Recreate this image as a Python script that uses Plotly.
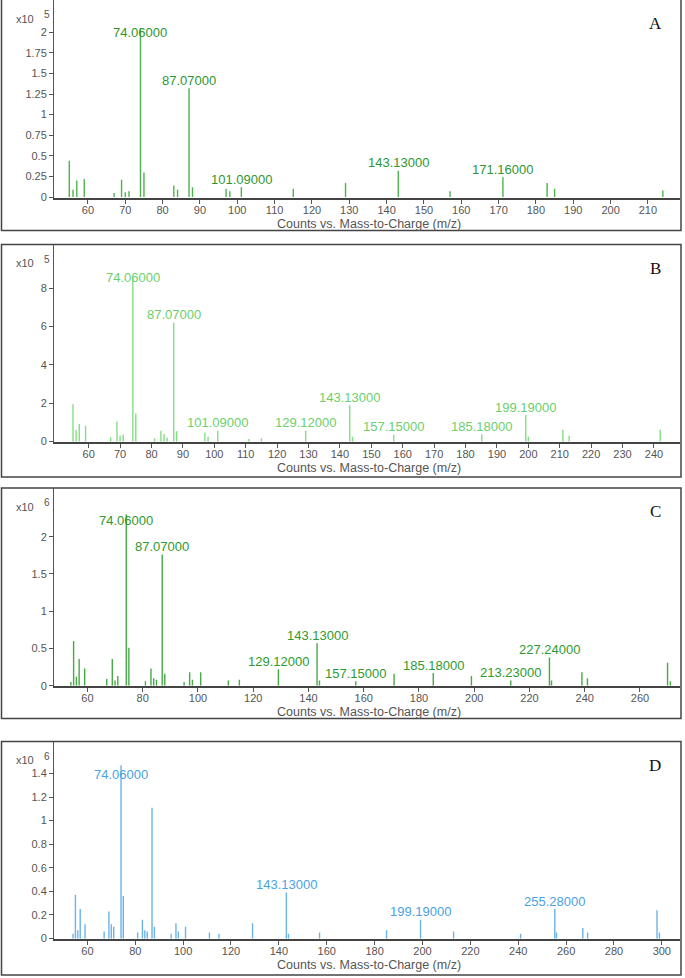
import plotly.graph_objects as go

# ---------------- data ----------------
A_mz = [55, 56, 57, 59, 67, 69, 70, 71, 74.06, 75, 83, 84, 87.07, 88, 97, 98, 101.09, 115, 129, 143.13, 157, 171.16, 183, 185, 214]
A_int = [0.44, 0.09, 0.20, 0.22, 0.05, 0.21, 0.06, 0.07, 2.05, 0.30, 0.14, 0.09, 1.32, 0.12, 0.10, 0.07, 0.12, 0.10, 0.17, 0.32, 0.07, 0.24, 0.17, 0.10, 0.08]
A_labels = [74.06, 87.07, 101.09, 143.13, 171.16]

B_mz = [55, 56, 57, 59, 67, 69, 70, 71, 74.06, 75, 81, 83, 84, 85, 87.07, 88, 97, 98, 101.09, 111, 115, 129.12, 143.13, 144, 157.15, 185.18, 199.19, 200, 211, 213, 242]
B_int = [1.95, 0.60, 0.92, 0.83, 0.22, 1.05, 0.30, 0.35, 8.50, 1.47, 0.17, 0.57, 0.40, 0.20, 6.20, 0.54, 0.48, 0.25, 0.57, 0.14, 0.17, 0.57, 1.90, 0.25, 0.35, 0.38, 1.38, 0.25, 0.62, 0.30, 0.62]
B_labels = [74.06, 87.07, 101.09, 129.12, 143.13, 157.15, 185.18, 199.19]

C_mz = [54, 55, 56, 57, 59, 67, 69, 70, 71, 74.06, 75, 81, 83, 84, 85, 87.07, 88, 95, 97, 98, 101, 111, 115, 129.12, 143.13, 144, 157.15, 171, 185.18, 199, 213.23, 227.24, 228, 239, 241, 270, 271]
C_int = [0.05, 0.60, 0.12, 0.36, 0.23, 0.09, 0.36, 0.07, 0.13, 2.30, 0.51, 0.06, 0.23, 0.10, 0.08, 1.76, 0.16, 0.05, 0.18, 0.08, 0.18, 0.07, 0.08, 0.22, 0.57, 0.07, 0.06, 0.16, 0.17, 0.13, 0.07, 0.38, 0.07, 0.18, 0.10, 0.31, 0.06]
C_labels = [74.06, 87.07, 129.12, 143.13, 157.15, 185.18, 213.23, 227.24]

D_mz = [54, 55, 56, 57, 59, 67, 69, 70, 71, 74.06, 75, 81, 83, 84, 85, 87, 88, 95, 97, 98, 101, 111, 115, 129, 143.13, 144, 157, 185, 199.19, 213, 241, 255.28, 256, 267, 269, 298, 299]
D_int = [0.04, 0.37, 0.07, 0.25, 0.12, 0.06, 0.23, 0.12, 0.10, 1.47, 0.36, 0.05, 0.16, 0.07, 0.06, 1.11, 0.10, 0.04, 0.13, 0.06, 0.10, 0.05, 0.04, 0.13, 0.39, 0.04, 0.05, 0.07, 0.16, 0.06, 0.04, 0.25, 0.05, 0.09, 0.05, 0.24, 0.05]
D_labels = [74.06, 143.13, 199.19, 255.28]

A_xticks = list(range(60, 211, 10))
B_xticks = list(range(60, 241, 10))
C_xticks = list(range(60, 261, 20))
D_xticks = list(range(60, 301, 20))
A_yticks = [0, 0.25, 0.5, 0.75, 1, 1.25, 1.5, 1.75, 2]
B_yticks = [0, 2, 4, 6, 8]
C_yticks = [0, 0.5, 1, 1.5, 2]
D_yticks = [0, 0.2, 0.4, 0.6, 0.8, 1, 1.2, 1.4]
exponents = ["5", "5", "6", "6"]
letters = ["A", "B", "C", "D"]
xtitle = "Counts vs. Mass-to-Charge (m/z)"

# ---------------- layout / style ----------------
W, H = 685, 978
def fx(p):
    return p / W
def fy(p):
    return 1 - p / H

panels = [
    dict(mz=A_mz, it=A_int, lab=A_labels, xt=A_xticks, yt=A_yticks,
         xr=[50.9, 218.6], yr=[-0.008, 2.39], top=0, bot=199, box=(-3, 232),
         line="#4fb24f", text="#2f962f"),
    dict(mz=B_mz, it=B_int, lab=B_labels, xt=B_xticks, yt=B_yticks,
         xr=[48.95, 248.3], yr=[-0.036, 10.28], top=246, bot=445, box=(246, 480),
         line="#84de84", text="#6ccf6c"),
    dict(mz=C_mz, it=C_int, lab=C_labels, xt=C_xticks, yt=C_yticks,
         xr=[47.9, 274.5], yr=[0, 2.653], top=491, bot=690, box=(491, 723),
         line="#46aa46", text="#2f9a2f"),
    dict(mz=D_mz, it=D_int, lab=D_labels, xt=D_xticks, yt=D_yticks,
         xr=[46.05, 307.6], yr=[-0.006, 1.672], top=746, bot=945, box=(746, 981),
         line="#6ab4ea", text="#4aa2e2"),
]

PLOT_L, PLOT_R = 54, 680
tickfont = dict(family="Liberation Sans, Arial, sans-serif", size=11, color="#555555")

fig = go.Figure()
annotations = []
shapes = []
layout = {}

for i, p in enumerate(panels):
    n = "" if i == 0 else str(i + 1)
    xs, ys = [], []
    for m, v in zip(p["mz"], p["it"]):
        xs += [m, m, None]
        ys += [0, v, None]
    fig.add_trace(go.Scatter(x=xs, y=ys, mode="lines", xaxis="x" + n, yaxis="y" + n,
                             line=dict(color=p["line"], width=1.4), hoverinfo="skip",
                             showlegend=False))
    layout["xaxis" + n] = dict(domain=[fx(PLOT_L), fx(PLOT_R)], range=p["xr"], anchor="y" + n,
                               tickvals=p["xt"], ticks="outside", ticklen=4, tickcolor="#555",
                               ticklabelstandoff=-3,
                               showline=True, linecolor="#444", linewidth=1.5,
                               showgrid=False, zeroline=False, tickfont=tickfont)
    layout["yaxis" + n] = dict(domain=[fy(p["bot"]), fy(p["top"])], range=p["yr"], anchor="x" + n,
                               tickvals=p["yt"], ticks="outside", ticklen=4, tickcolor="#555",
                               showline=True, linecolor="#555", linewidth=1,
                               showgrid=False, zeroline=False, tickfont=tickfont)
    # peak labels
    ppu = (p["bot"] - p["top"]) / (p["yr"][1] - p["yr"][0])
    ymax_lab = p["yr"][1] - 33 / ppu
    for m in p["lab"]:
        v = p["it"][p["mz"].index(m)]
        ylab = min(v + 8 / ppu, ymax_lab)
        annotations.append(dict(x=m, y=ylab, xref="x" + n, yref="y" + n, text=f"{m:.5f}",
                                showarrow=False, xanchor="center", yanchor="middle",
                                font=dict(family="Liberation Sans, Arial, sans-serif", size=13,
                                          color=p["text"])))
    # x-axis title
    annotations.append(dict(x=fx(369), y=fy(p["bot"] + 26), xref="paper", yref="paper",
                            text=xtitle, showarrow=False, xanchor="center", yanchor="middle",
                            font=dict(family="Liberation Sans, Arial, sans-serif", size=12.5, color="#555555")))
    # multiplier
    annotations.append(dict(x=fx(36), y=fy(p["top"] + 19), xref="paper", yref="paper",
                            text="x10", showarrow=False, xanchor="right", yanchor="middle",
                            font=dict(family="Liberation Sans, Arial, sans-serif", size=11, color="#555555")))
    annotations.append(dict(x=fx(42), y=fy(p["top"] + 15), xref="paper", yref="paper",
                            text=exponents[i], showarrow=False, xanchor="left", yanchor="middle",
                            font=dict(family="Liberation Sans, Arial, sans-serif", size=10, color="#555555")))
    # panel letter
    annotations.append(dict(x=fx(655), y=fy(p["top"] + 24), xref="paper", yref="paper",
                            text=letters[i], showarrow=False, xanchor="center", yanchor="middle",
                            font=dict(family="Liberation Serif, Times New Roman, serif", size=17, color="#111111")))
    # panel box
    shapes.append(dict(type="rect", xref="paper", yref="paper",
                       x0=fx(1.5), x1=fx(681), y0=fy(p["box"][1]), y1=fy(p["box"][0]),
                       line=dict(color="#444444", width=1.5), fillcolor="rgba(0,0,0,0)"))

fig.update_layout(width=W, height=H, autosize=False, margin=dict(l=0, r=0, t=0, b=0),
                  paper_bgcolor="white", plot_bgcolor="white",
                  annotations=annotations, shapes=shapes, **layout)

fig.write_html("out.html", config={"displayModeBar": False},
               post_script="document.body.style.margin='0';document.body.style.overflow='hidden';")
